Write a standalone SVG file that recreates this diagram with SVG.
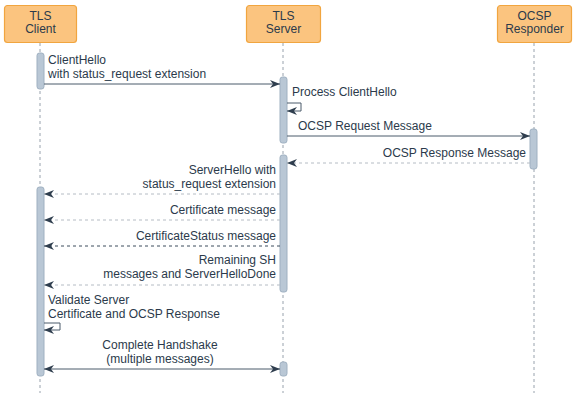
<svg xmlns="http://www.w3.org/2000/svg" width="575" height="393" viewBox="0 0 575 393">
<defs>
<style>
.box{fill:#fbc47f;stroke:#f1a53f;stroke-width:1.2}
.title{font-family:"Liberation Sans",Arial,sans-serif;font-size:12px;fill:#2b3a4b;text-anchor:middle}
.life{stroke:#98a2ad;stroke-width:1;stroke-dasharray:3,3;fill:none}
.bar{fill:#b9c7d5;stroke:#9fb0c1;stroke-width:1}
.lbl{font-family:"Liberation Sans",Arial,sans-serif;font-size:12px;fill:#2b3a4b}
.r{text-anchor:end}
.c{text-anchor:middle}
.msg{stroke:#4a5a6a;stroke-width:1;fill:none}
.ret{stroke:#b5bcc4;stroke-width:1;stroke-dasharray:3,3;fill:none}
.retd{stroke:#3d4c5c;stroke-width:1;stroke-dasharray:3,3;fill:none}
</style>
<marker id="ah" viewBox="0 0 10 10" refX="10" refY="5" markerWidth="10" markerHeight="10" markerUnits="userSpaceOnUse" orient="auto-start-reverse">
<path d="M0,1 L10,5 L0,9 L3,5 Z" fill="#2f3e4e"/>
</marker>
</defs>
<g id="lifelines">
<line class="life" x1="40" y1="43" x2="40" y2="393"/>
<line class="life" x1="283" y1="43" x2="283" y2="393"/>
<line class="life" x1="534" y1="43" x2="534" y2="393"/>
</g>
<g id="tls-client">
<rect class="box" x="4.5" y="5.5" width="72" height="37" rx="3"/>
<text class="title" x="40.5" y="19.5">TLS</text>
<text class="title" x="40.5" y="33">Client</text>
</g>
<g id="tls-server">
<rect class="box" x="246.5" y="5.5" width="74" height="37" rx="3"/>
<text class="title" x="283.5" y="19.5">TLS</text>
<text class="title" x="283.5" y="33">Server</text>
</g>
<g id="ocsp-responder">
<rect class="box" x="497.5" y="5.5" width="74" height="37" rx="3"/>
<text class="title" x="534.5" y="19.5">OCSP</text>
<text class="title" x="534.5" y="33">Responder</text>
</g>
<g id="activations">
<rect class="bar" x="37" y="53" width="7" height="36" rx="2.5"/>
<rect class="bar" x="280" y="77" width="7" height="66" rx="2.5"/>
<rect class="bar" x="530" y="129" width="7" height="40" rx="2.5"/>
<rect class="bar" x="280" y="155" width="7" height="137" rx="2.5"/>
<rect class="bar" x="37" y="187" width="7" height="189" rx="2.5"/>
<rect class="bar" x="280" y="362" width="7" height="14" rx="2.5"/>
</g>
<g id="connectors">
<line class="msg" x1="44" y1="84" x2="280" y2="84" marker-end="url(#ah)"/>
<polyline class="msg" points="287,103 301,103 301,111 287,111" marker-end="url(#ah)"/>
<line class="msg" x1="287" y1="136" x2="530" y2="136" marker-end="url(#ah)"/>
<line class="ret" x1="530" y1="163" x2="287" y2="163" marker-end="url(#ah)"/>
<line class="ret" x1="280" y1="194" x2="44" y2="194" marker-end="url(#ah)"/>
<line class="ret" x1="280" y1="220" x2="44" y2="220" marker-end="url(#ah)"/>
<line class="retd" x1="280" y1="246" x2="44" y2="246" marker-end="url(#ah)"/>
<line class="ret" x1="280" y1="285" x2="44" y2="285" marker-end="url(#ah)"/>
<polyline class="msg" points="44,323 60,323 60,330 44,330" marker-end="url(#ah)"/>
<line class="msg" x1="44" y1="369" x2="280" y2="369" marker-start="url(#ah)" marker-end="url(#ah)"/>
</g>
<g id="labels">
<text class="lbl" x="48" y="64">ClientHello</text>
<text class="lbl" x="48" y="77.5">with status_request extension</text>
<text class="lbl" x="292" y="96">Process ClientHello</text>
<text class="lbl" x="298" y="130">OCSP Request Message</text>
<text class="lbl r" x="526" y="157">OCSP Response Message</text>
<text class="lbl r" x="276" y="174">ServerHello with</text>
<text class="lbl r" x="276" y="187.5">status_request extension</text>
<text class="lbl r" x="276" y="214">Certificate message</text>
<text class="lbl r" x="276" y="240">CertificateStatus message</text>
<text class="lbl r" x="276" y="264">Remaining SH</text>
<text class="lbl r" x="276" y="277.5">messages and ServerHelloDone</text>
<text class="lbl" x="48" y="304">Validate Server</text>
<text class="lbl" x="48" y="317.5">Certificate and OCSP Response</text>
<text class="lbl c" x="160" y="349">Complete Handshake</text>
<text class="lbl c" x="160" y="362.5">(multiple messages)</text>
</g>
</svg>
